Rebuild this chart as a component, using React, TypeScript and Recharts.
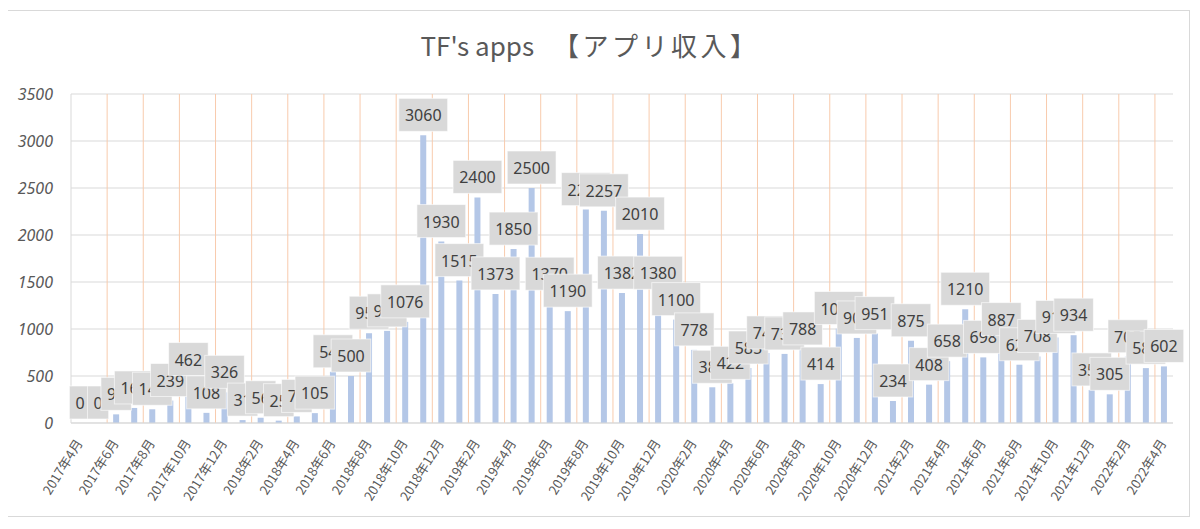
import React from 'react';
import {
  BarChart,
  Bar,
  XAxis,
  YAxis,
  CartesianGrid,
  LabelList,
  ReferenceLine
} from 'recharts';

const months = [
  '2017年4月', '2017年5月', '2017年6月', '2017年7月', '2017年8月', '2017年9月',
  '2017年10月', '2017年11月', '2017年12月',
  '2018年1月', '2018年2月', '2018年3月', '2018年4月', '2018年5月', '2018年6月',
  '2018年7月', '2018年8月', '2018年9月', '2018年10月', '2018年11月', '2018年12月',
  '2019年1月', '2019年2月', '2019年3月', '2019年4月', '2019年5月', '2019年6月',
  '2019年7月', '2019年8月', '2019年9月', '2019年10月', '2019年11月', '2019年12月',
  '2020年1月', '2020年2月', '2020年3月', '2020年4月', '2020年5月', '2020年6月',
  '2020年7月', '2020年8月', '2020年9月', '2020年10月', '2020年11月', '2020年12月',
  '2021年1月', '2021年2月', '2021年3月', '2021年4月', '2021年5月', '2021年6月',
  '2021年7月', '2021年8月', '2021年9月', '2021年10月', '2021年11月', '2021年12月',
  '2022年1月', '2022年2月', '2022年3月', '2022年4月'
];

// monthly app revenue, one list per year
const revenue2017 = [0, 0, 92, 160, 146, 239, 462, 108, 326];
const revenue2018 = [31, 56, 25, 70, 105, 545, 500, 955, 980, 1076, 3060, 1930];
const revenue2019 = [1515, 2400, 1373, 1850, 2500, 1370, 1190, 2270, 2257, 1382, 2010, 1380];
const revenue2020 = [1100, 778, 380, 422, 585, 745, 735, 788, 414, 1005, 905, 951];
const revenue2021 = [234, 875, 408, 658, 1210, 698, 887, 620, 708, 910, 934, 352];
const revenue2022 = [305, 705, 584, 602];

const yTicks = [0, 500, 1000, 1500, 2000, 2500, 3000, 3500];

const revenue = [
  ...revenue2017, ...revenue2018, ...revenue2019,
  ...revenue2020, ...revenue2021, ...revenue2022
];

const data = months.map((month, i) => ({ month, value: revenue[i] }));

// orange separators every two months
const gridMonths = months.filter((_, i) => i > 0 && i % 2 === 0);

const ValueTag = (props: any) => {
  const { x, y, width, height, value } = props;
  const text = String(value);
  const w = text.length * 9.2 + 12;
  const cx = Number(x) + Number(width) / 2;
  // top of the bar, whichever way the rect is oriented
  const top = Math.min(Number(y), Number(y) + Number(height || 0));
  const bottom = top - 4;
  return (
    <g>
      <rect
        x={cx - w / 2}
        y={bottom - 33}
        width={w}
        height={33}
        fill="#d9d9d9"
        stroke="#ffffff"
        strokeOpacity={0.6}
        strokeWidth={1}
      />
      <text
        x={cx}
        y={bottom - 16}
        textAnchor="middle"
        dominantBaseline="central"
        fontSize={16}
        fill="#404040"
        fontFamily="'Noto Sans', sans-serif"
      >
        {text}
      </text>
    </g>
  );
};

const MonthTick = (props: any) => {
  const { x, y, payload } = props;
  return (
    <text
      transform={`translate(${x + 3},${y + 20}) rotate(-58)`}
      textAnchor="end"
      fontSize={13}
      fill="#595959"
      fontFamily="'Noto Sans CJK JP', sans-serif"
    >
      {payload.value}
    </text>
  );
};

export default function App() {
  return (
    <div style={{ position: 'relative', width: 1200, height: 529, margin: -8, background: '#fff' }}>
      <div
        style={{
          position: 'absolute',
          left: 7,
          top: 10,
          width: 1183,
          height: 507,
          border: '1px solid #d9d9d9',
          boxSizing: 'border-box'
        }}
      />
      <div
        style={{
          position: 'absolute',
          left: 0,
          top: 26,
          width: 1180,
          textAlign: 'center',
          fontFamily: "'Noto Sans CJK JP', sans-serif",
          fontSize: 26,
          color: '#595959',
          lineHeight: '38px',
          whiteSpace: 'pre'
        }}
      >
        TF's apps 　<span style={{ letterSpacing: 3.5 }}>【アプリ収入】</span>
      </div>
      <div style={{ position: 'absolute', left: 0, top: 0 }}>
        <BarChart
          width={1200}
          height={529}
          data={data}
          margin={{ top: 94, right: 27, bottom: 0, left: 0 }}
        >
          <CartesianGrid vertical={false} stroke="#d9d9d9" />
          {gridMonths.map((m) => (
            <ReferenceLine key={m} x={m} position="start" stroke="#f8cbad" strokeWidth={1} />
          ))}
          <XAxis
            dataKey="month"
            interval={1}
            height={106}
            tickLine={false}
            tickSize={0}
            tickMargin={0}
            axisLine={{ stroke: '#d9d9d9' }}
            tick={<MonthTick />}
          />
          <YAxis
            width={71}
            domain={[0, 3500]}
            ticks={yTicks}
            tickLine={false}
            tickSize={0}
            tickMargin={18}
            axisLine={{ stroke: '#d9d9d9' }}
            tick={{ fill: '#595959', fontSize: 16, fontStyle: 'italic', fontFamily: "'Noto Sans', sans-serif" }}
          />
          <Bar dataKey="value" fill="#b4c7e7" barSize={6} minPointSize={0.01} isAnimationActive={false}>
            <LabelList dataKey="value" content={<ValueTag />} />
          </Bar>
        </BarChart>
      </div>
    </div>
  );
}
